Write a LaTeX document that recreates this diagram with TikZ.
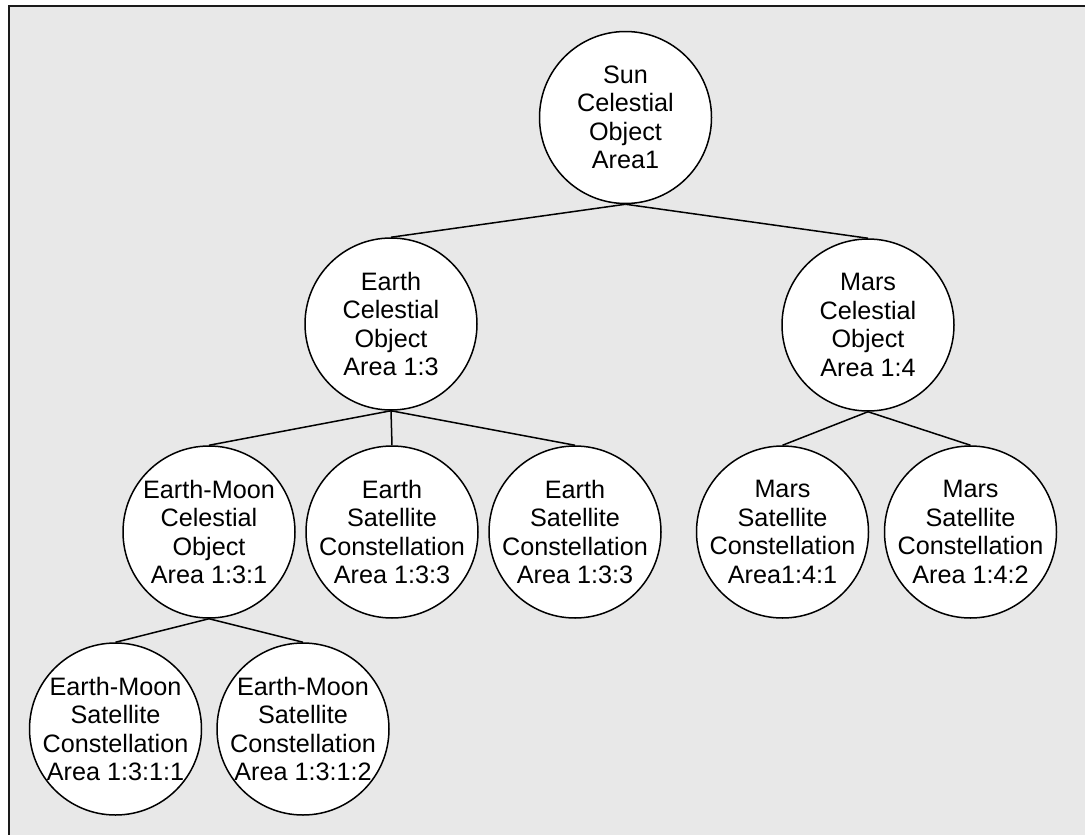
\documentclass[tikz,border=0pt]{standalone}
\usepackage{fontspec}
\setmainfont{Liberation Sans}
\definecolor{bgfill}{HTML}{E8E8E8}
\definecolor{framecol}{HTML}{1A1A1A}
\begin{document}
\begin{tikzpicture}[x=1pt,y=-1pt,
  ball/.style={circle,draw=black,fill=white,line width=1.5pt,minimum size=172pt,inner sep=0pt},
  txt/.style={align=center,inner sep=0pt,font=\fontsize{25.2}{28.5}\selectfont,text=black},
  link/.style={draw=black,line width=1.5pt}]
\useasboundingbox (0,0) rectangle (1085,835);
\fill[bgfill] (9,5.7) rectangle (1090,840);
\draw[framecol,line width=2pt] (9,840) -- (9,5.7) -- (1090,5.7);
% circles
\node[ball] (sun) at (625.5,117.5) {};
\node[ball] (earth) at (391,324) {};
\node[ball] (mars) at (868,325) {};
\node[ball] (em) at (209,532) {};
\node[ball] (es1) at (392,532) {};
\node[ball] (es2) at (575,532) {};
\node[ball] (ms1) at (782.5,532) {};
\node[ball] (ms2) at (970.5,532) {};
\node[ball] (ems1) at (115.5,729) {};
\node[ball] (ems2) at (303,729) {};
% texts
\node[txt] (sunt) at (sun) {Sun\\Celestial\\Object\\Area1};
\node[txt] (eartht) at (earth) {Earth\\Celestial\\Object\\Area 1:3};
\node[txt] (marst) at (mars) {Mars\\Celestial\\Object\\Area 1:4};
\node[txt] (emt) at (em) {Earth-Moon\\Celestial\\Object\\Area 1:3:1};
\node[txt] (es1t) at (es1) {Earth\\Satellite\\Constellation\\Area 1:3:3};
\node[txt] (es2t) at (es2) {Earth\\Satellite\\Constellation\\Area 1:3:3};
\node[txt] (ms1t) at (ms1) {Mars\\Satellite\\Constellation\\Area1:4:1};
\node[txt] (ms2t) at (ms2) {Mars\\Satellite\\Constellation\\Area 1:4:2};
\node[txt] (ems1t) at (ems1) {Earth-Moon\\Satellite\\Constellation\\Area 1:3:1:1};
\node[txt] (ems2t) at (ems2) {Earth-Moon\\Satellite\\Constellation\\Area 1:3:1:2};
% connectors
\draw[link] (sun.south) -- (earth.north);
\draw[link] (sun.south) -- (mars.north);
\draw[link] (earth.south) -- (em.north);
\draw[link] (earth.south) -- (es1.north);
\draw[link] (earth.south) -- (es2.north);
\draw[link] (mars.south) -- (ms1.north);
\draw[link] (mars.south) -- (ms2.north);
\draw[link] (em.south) -- (ems1.north);
\draw[link] (em.south) -- (ems2.north);
\end{tikzpicture}
\end{document}
